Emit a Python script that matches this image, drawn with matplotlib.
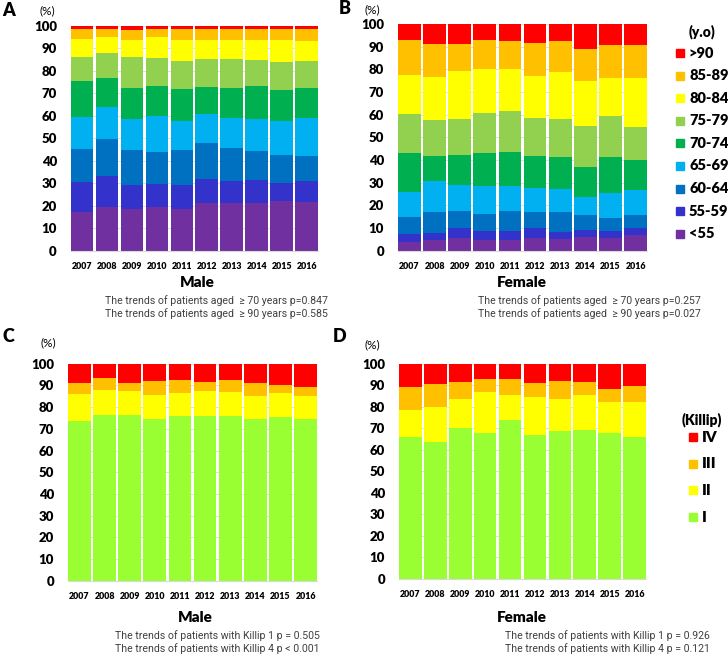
import numpy as np
import matplotlib
matplotlib.use("Agg")
import matplotlib.pyplot as plt
from matplotlib.patches import Rectangle

# Data
years = [str(y) for y in range(2007, 2017)]

age_groups = ['<55', '55-59', '60-64', '65-69', '70-74', '75-79', '80-84', '85-89', '>90']
age_colors = ['#7030A0', '#3333CC', '#0070C0', '#00B0F0', '#00B050',
              '#92D050', '#FFFF00', '#FFC000', '#FF0000']

# upper edge of each age band (cumulative %), the top band runs to 100
male_age_top = [
    [17.3, 30.7, 45.2, 59.6, 75.4, 85.9, 94.1, 98.4],
    [19.6, 33.2, 49.5, 63.7, 76.9, 88.0, 95.0, 98.7],
    [18.5, 29.2, 44.7, 58.4, 72.3, 85.9, 93.6, 98.1],
    [19.4, 29.6, 44.0, 59.7, 73.2, 85.8, 94.8, 98.5],
    [18.7, 29.0, 44.7, 57.8, 71.7, 84.1, 93.6, 98.4],
    [21.3, 31.9, 47.7, 60.9, 72.6, 85.2, 93.6, 98.4],
    [21.3, 31.0, 45.5, 58.8, 72.3, 85.0, 93.6, 98.4],
    [21.3, 31.3, 44.3, 58.4, 73.3, 84.7, 93.6, 98.4],
    [21.9, 30.2, 42.5, 57.6, 71.6, 83.9, 93.6, 98.4],
    [21.5, 31.1, 42.1, 58.8, 72.1, 84.4, 93.3, 98.4],
]
female_age_top = [
    [4.0, 7.5, 14.9, 25.9, 42.9, 60.1, 77.4, 93.1],
    [4.7, 7.9, 17.1, 30.7, 41.8, 57.6, 76.5, 91.3],
    [5.6, 10.0, 17.5, 29.0, 42.4, 57.9, 79.3, 91.3],
    [4.6, 8.5, 16.2, 28.7, 43.2, 60.6, 80.3, 93.1],
    [4.6, 8.5, 17.5, 28.5, 43.5, 61.6, 80.1, 92.5],
    [5.4, 10.0, 17.2, 27.6, 41.6, 58.5, 77.1, 91.6],
    [5.1, 8.2, 16.9, 27.4, 41.5, 58.1, 78.8, 92.4],
    [5.9, 9.3, 15.6, 23.8, 36.9, 54.9, 74.7, 89.1],
    [5.7, 8.8, 14.4, 25.6, 41.2, 59.4, 76.2, 90.7],
    [6.8, 10.0, 15.7, 26.8, 40.0, 54.7, 76.2, 90.7],
]

killip_classes = ['I', 'II', 'III', 'IV']
killip_colors = ['#99FF33', '#FFFF00', '#FFC000', '#FF0000']

male_killip_top = [
    [73.6, 86.2, 91.2],
    [76.3, 87.7, 93.2],
    [76.3, 87.4, 90.9],
    [74.5, 85.6, 92.0],
    [75.7, 86.3, 92.6],
    [75.7, 87.4, 91.6],
    [75.7, 86.9, 92.3],
    [74.3, 85.3, 90.9],
    [75.3, 86.5, 90.3],
    [74.3, 85.3, 89.4],
]
female_killip_top = [
    [66.1, 78.6, 89.0],
    [63.8, 80.0, 90.7],
    [70.1, 83.6, 91.5],
    [68.0, 86.8, 92.9],
    [73.7, 85.3, 93.0],
    [66.9, 84.7, 91.0],
    [68.7, 83.7, 92.1],
    [69.2, 85.4, 91.3],
    [67.6, 82.2, 88.2],
    [65.9, 82.2, 89.5],
]

notes_a = ["The trends of patients aged  \u2265 70 years p=0.847",
           "The trends of patients aged  \u2265 90 years p=0.585"]
notes_b = ["The trends of patients aged  \u2265 70 years p=0.257",
           "The trends of patients aged  \u2265 90 years p=0.027"]
notes_c = ["The trends of patients with Killip 1 p = 0.505",
           "The trends of patients with Killip 4 p < 0.001"]
notes_d = ["The trends of patients with Killip 1 p = 0.926",
           "The trends of patients with Killip 4 p = 0.121"]

BOLD = ['Lato', 'DejaVu Sans']
NOTE = ['Liberation Sans Narrow', 'Roboto', 'DejaVu Sans']

W, H = 728, 656
fig = plt.figure(figsize=(W / 100, H / 100), dpi=100)


def px(x, y):
    return x / W, 1 - y / H


def stacked(rect, tops, colors):
    ax = fig.add_axes(rect)
    tops = np.array(tops)
    n = len(tops)
    lower = np.column_stack([np.zeros(n), tops])
    upper = np.column_stack([tops, np.full(n, 100.0)])
    x = np.arange(n)
    for k, c in enumerate(colors):
        ax.bar(x, upper[:, k] - lower[:, k], bottom=lower[:, k], width=0.91,
               color=c, linewidth=0, zorder=2)
    ax.set_xlim(-0.455, n - 1 + 0.455)
    ax.set_ylim(0, 100)
    ax.set_yticks(range(0, 101, 10))
    ax.yaxis.grid(True, color='#D9D9D9', linewidth=0.6, zorder=0)
    ax.set_axisbelow(True)
    for s in ['top', 'right', 'left']:
        ax.spines[s].set_visible(False)
    ax.spines['bottom'].set_color('#D9D9D9')
    ax.set_xticks(x)
    ax.set_xticklabels(years)
    ax.tick_params(axis='both', length=0)
    ax.tick_params(axis='y', pad=10)
    ax.tick_params(axis='x', pad=8)
    for t in ax.get_yticklabels():
        t.set_fontfamily(BOLD)
        t.set_fontweight('heavy')
        t.set_fontsize(9.5)
    for t in ax.get_xticklabels():
        t.set_fontfamily(BOLD)
        t.set_fontweight('heavy')
        t.set_fontsize(6.4)
    return ax


def rect_px(l, t, r, b):
    return [l / W, 1 - b / H, (r - l) / W, (b - t) / H]


stacked(rect_px(70.7, 25.7, 318, 250.7), male_age_top, age_colors)
stacked(rect_px(398, 24, 647, 250.7), female_age_top, age_colors)
stacked(rect_px(68, 363.7, 317, 580.7), male_killip_top, killip_colors)
stacked(rect_px(399, 363.7, 646, 579), female_killip_top, killip_colors)

# panel letters and unit labels
for letter, lx, ly, ux, uy in [('A', 9, 10, 47, 11), ('B', 345, 9, 372, 10),
                               ('C', 8, 337, 48, 343), ('D', 340, 336, 372, 345)]:
    fig.text(*px(lx, ly), letter, family=BOLD, weight='heavy', fontsize=13,
             ha='center', va='center')
    fig.text(*px(ux, uy), '(%)', family=BOLD, fontsize=8.5, ha='center', va='center')

# sex labels
for label, x, y in [('Male', 197, 282), ('Female', 522, 282),
                    ('Male', 195, 618), ('Female', 522, 618)]:
    fig.text(*px(x, y), label, family=BOLD, weight='heavy', fontsize=11,
             ha='center', va='center')

# p-value notes
for notes, x, y in [(notes_a, 105, 301), (notes_b, 478, 301),
                    (notes_c, 115, 636), (notes_d, 505, 636)]:
    for i, line in enumerate(notes):
        fig.text(*px(x, y + i * 12.5), line, family=NOTE, fontsize=7.6,
                 color='#404040', ha='left', va='center')

# age legend
fig.text(*px(702, 32), '(y.o)', family=BOLD, weight='heavy', fontsize=10,
         ha='center', va='center')
for i, (g, c) in enumerate(zip(age_groups[::-1], age_colors[::-1])):
    y = 53 + i * 22.6
    fig.patches.append(Rectangle(px(676, y + 4), 8 / W, 8 / H, color=c,
                                 transform=fig.transFigure))
    fig.text(*px(689, y), g, family=BOLD, weight='heavy', fontsize=10.5,
             ha='left', va='center')

# Killip legend
fig.text(*px(702, 420), '(Killip)', family=BOLD, weight='heavy', fontsize=10,
         ha='center', va='center')
for i, (k, c) in enumerate(zip(killip_classes[::-1], killip_colors[::-1])):
    y = 437 + i * 26.7
    fig.patches.append(Rectangle(px(689, y + 4), 8 / W, 8 / H, color=c,
                                 transform=fig.transFigure))
    fig.text(*px(702, y), k, family=BOLD, weight='heavy', fontsize=11,
             ha='left', va='center')

fig.savefig('out.png', dpi=100)
